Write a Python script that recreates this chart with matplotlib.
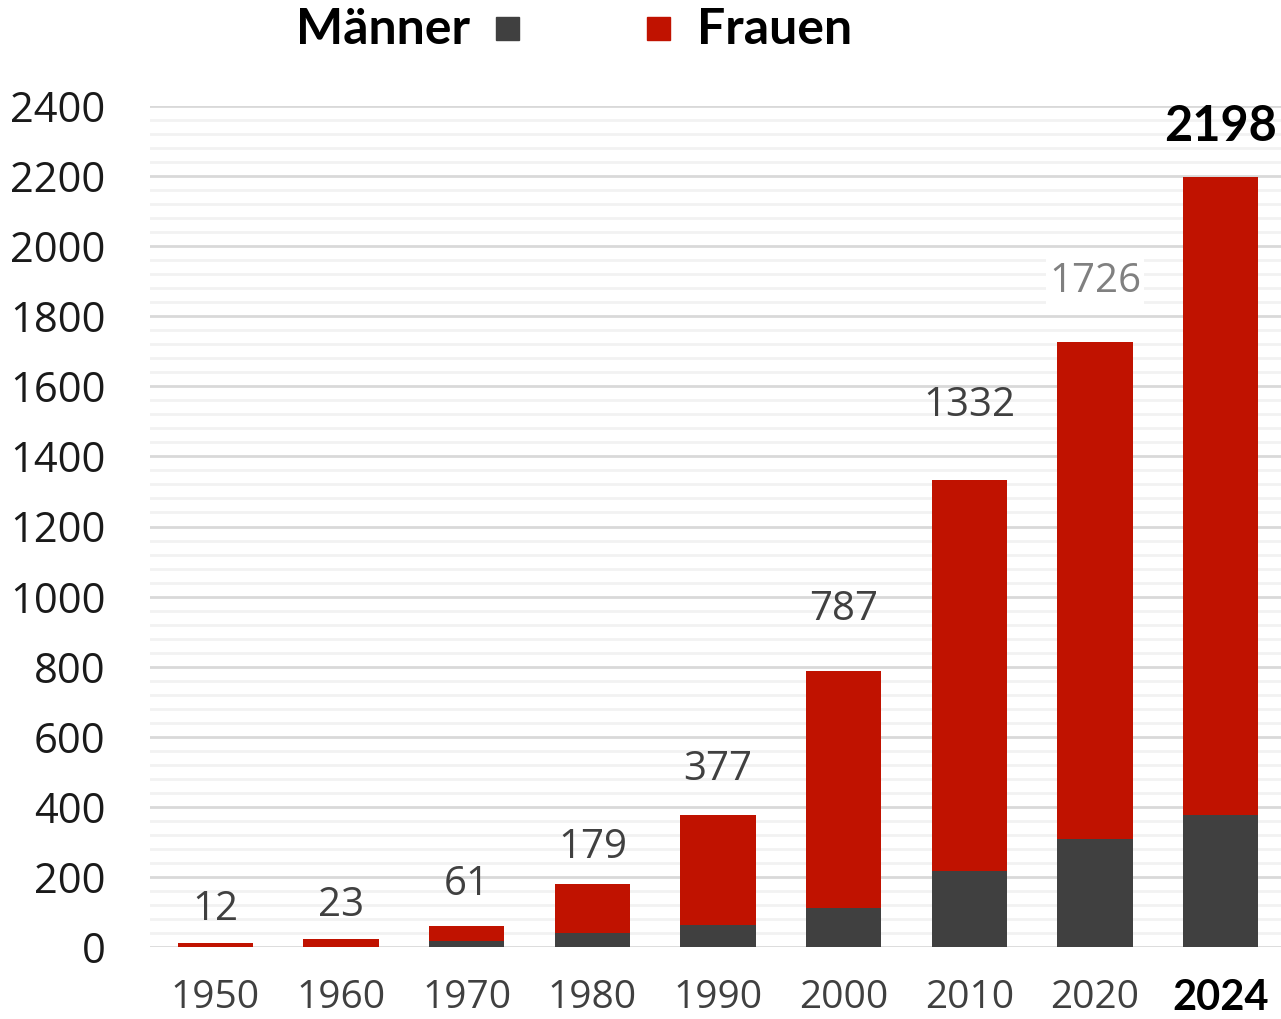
import matplotlib
matplotlib.use('Agg')
import matplotlib.pyplot as plt
from matplotlib.patches import Rectangle
from matplotlib.ticker import MultipleLocator
import numpy as np

years = ['1950', '1960', '1970', '1980', '1990', '2000', '2010', '2020', '2024']
totals = [12, 23, 61, 179, 377, 787, 1332, 1726, 2198]
men = [0, 0, 17, 41, 63, 110, 216, 307, 377]
women = [t - m for t, m in zip(totals, men)]

red = '#C01200'
dark = '#404040'

fig = plt.figure(figsize=(12.81, 10.19), dpi=100)
ax = fig.add_axes([150 / 1281, 1 - 947 / 1019, 1131 / 1281, (947 - 106) / 1019])

x = np.arange(len(years))
ax.bar(x, men, width=0.6, color=dark, zorder=3)
ax.bar(x, women, width=0.6, bottom=men, color=red, zorder=3)

ax.set_xlim(-0.52, 8.48)
ax.set_ylim(0, 2400)
ax.yaxis.set_major_locator(MultipleLocator(200))
ax.yaxis.set_minor_locator(MultipleLocator(40))
ax.grid(axis='y', which='major', color='#d9d9d9', lw=2, zorder=0)
ax.grid(axis='y', which='minor', color='#f2f2f2', lw=2, zorder=0)
ax.set_axisbelow(True)
for s in ax.spines.values():
    s.set_visible(False)
ax.tick_params(axis='both', which='both', length=0)
ax.tick_params(axis='y', pad=32, labelsize=30, labelcolor='#1a1a1a')
ax.tick_params(axis='x', pad=23, labelsize=28, labelcolor='#404040')
ax.set_xticks(x)
ax.set_xticklabels(years)
for lab in ax.get_yticklabels():
    lab.set_family('Open Sans')
for i, lab in enumerate(ax.get_xticklabels()):
    lab.set_family('Open Sans')
    if i == len(years) - 1:
        lab.set_family('Lato')
        lab.set_fontweight('bold')
        lab.set_color('black')
        lab.set_fontsize(30)

# value labels above the bars (gap in points)
gaps = [9, 9, 15, 12, 18, 30, 39, 29, 20]
for i, t in enumerate(totals):
    if i == len(totals) - 1:
        ax.annotate(str(t), (x[i], t), xytext=(0, gaps[i]), textcoords='offset points',
                    ha='center', va='bottom', fontsize=35, fontweight='bold',
                    family='Lato', color='black', zorder=5)
    elif i == 7:
        ax.annotate(str(t), (x[i], t), xytext=(0, gaps[i]), textcoords='offset points',
                    ha='center', va='bottom', fontsize=29, family='Open Sans',
                    color='#808080', zorder=5,
                    bbox=dict(facecolor='white', edgecolor='none', pad=2))
    else:
        ax.annotate(str(t), (x[i], t), xytext=(0, gaps[i]), textcoords='offset points',
                    ha='center', va='bottom', fontsize=29, family='Open Sans',
                    color='#404040', zorder=5)

# legend on top
fig.text(296 / 1281, 1 - 29 / 1019, 'Männer', ha='left', va='center',
         fontsize=36, fontweight='bold', family='Lato', color='black')
fig.patches.append(Rectangle((496 / 1281, 1 - 40 / 1019), 23 / 1281, 23 / 1019,
                             transform=fig.transFigure, color=dark))
fig.patches.append(Rectangle((647 / 1281, 1 - 40 / 1019), 23 / 1281, 23 / 1019,
                             transform=fig.transFigure, color=red))
fig.text(697 / 1281, 1 - 29 / 1019, 'Frauen', ha='left', va='center',
         fontsize=36, fontweight='bold', family='Lato', color='black')

fig.savefig('out.png', dpi=100)
